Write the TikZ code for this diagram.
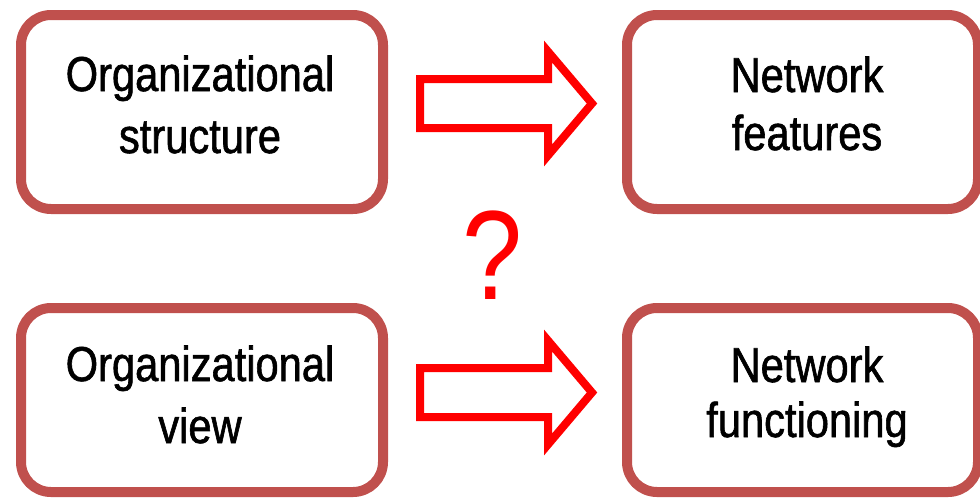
\documentclass[tikz,border=0pt]{standalone}
\usepackage{fontspec}
\setmainfont{Liberation Sans}
\newfontfamily\boxfont[FakeStretch=0.85,FakeBold=1.2]{Liberation Sans}
\newfontfamily\qfont[FakeStretch=0.85]{Liberation Sans}
\definecolor{boxred}{HTML}{C0504D}
\definecolor{arrred}{HTML}{FF0000}
\tikzset{
  box/.style={draw=boxred, line width=10pt, rounded corners=30pt, fill=white, inner sep=0pt},
  lbl/.style={anchor=base, inner sep=0pt, text=black, font=\boxfont\fontsize{49}{55}\selectfont},
  blockarr/.style={draw=arrred, line width=8pt, line join=miter, fill=white},
  qmark/.style={anchor=base, inner sep=0pt, text=arrred, font=\qfont\fontsize{127}{127}\selectfont}
}
\newcommand\myblockarrow[1]{%
  \draw[blockarr] ($(#1)+(0,-24.5)$) -- ++(128,0) -- ++(0,-27.5) -- ($(#1)+(172,0)$)
    -- ($(#1)+(128,52)$) -- ++(0,-27.5) -- ($(#1)+(0,24.5)$) -- cycle;}
\usetikzlibrary{calc}
\begin{document}
\begin{tikzpicture}[x=1pt,y=-1pt]
\useasboundingbox (0,0) rectangle (980,498);
% boxes
\node[box, minimum width=362pt, minimum height=194pt] (b1) at (202,112) {};
\node[box, minimum width=351pt, minimum height=194pt] (b2) at (802.5,112) {};
\node[box, minimum width=362pt, minimum height=184pt] (b3) at (202,400) {};
\node[box, minimum width=351pt, minimum height=184pt] (b4) at (802.5,400) {};
% labels
\node[lbl] (b1a) at (200,91) {Organizational};
\node[lbl] (b1b) at (200,153) {structure};
\node[lbl] (b2a) at (807,92) {Network};
\node[lbl] (b2b) at (807,150) {features};
\node[lbl] (b3a) at (200,381) {Organizational};
\node[lbl] (b3b) at (200,443) {view};
\node[lbl] (b4a) at (807,382) {Network};
\node[lbl] (b4b) at (807,437) {functioning};
% block arrows
\coordinate (a1) at (420,103.5);
\coordinate (a2) at (420,392.5);
\myblockarrow{a1}
\myblockarrow{a2}
% question mark
\node[qmark] (q) at (493,299) {?};
\end{tikzpicture}
\end{document}
